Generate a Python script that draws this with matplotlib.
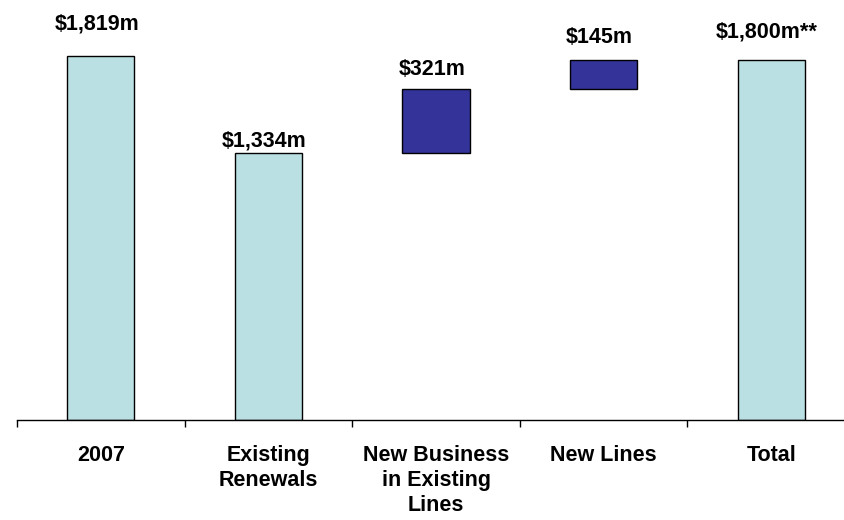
import matplotlib.pyplot as plt

plt.rcParams['font.family'] = ['Liberation Sans', 'DejaVu Sans']

categories = ["2007", "Existing\nRenewals", "New Business\nin Existing\nLines", "New Lines", "Total"]
values = [1819, 1334, 321, 145, 1800]
labels = ["$1,819m", "$1,334m", "$321m", "$145m", "$1,800m**"]
# which bars float on top of the running total
is_step = [False, False, True, True, False]

light = "#bbe0e3"
dark = "#333399"

bottoms = []
running = 0
for v, step in zip(values, is_step):
    if step:
        bottoms.append(running)
        running += v
    else:
        bottoms.append(0)
        running = v
tops = [b + v for b, v in zip(bottoms, values)]

fig = plt.figure(figsize=(8.45, 5.2), dpi=100)
ax = fig.add_axes([17 / 845, 100 / 520, 838 / 845, 420 / 520])

x = list(range(len(categories)))
colors = [dark if s else light for s in is_step]
ax.bar(x, values, bottom=bottoms, width=0.4, color=colors, edgecolor="black", linewidth=1)

# gap between bar top and its label, in points
pads = [19.5, 4.5, 10, 12, 16.5]
for xi, top, lab, pad in zip(x, tops, labels, pads):
    ax.annotate(lab, (xi, top), xytext=(-3, pad), textcoords="offset points",
                ha="center", va="baseline", fontsize=15.5, fontweight="bold")

ax.set_xlim(-0.5, len(categories) - 0.5)
ax.set_ylim(0, 2100)
ax.set_xticks([i - 0.5 for i in range(len(categories) + 1)])
ax.set_xticklabels([])
ax.set_xticks(x, minor=True)
ax.set_xticklabels(categories, minor=True, fontsize=15.5, fontweight="bold", linespacing=1.25)
ax.tick_params(axis="x", which="major", length=5, width=1, direction="out")
ax.tick_params(axis="x", which="minor", length=0, pad=18)
ax.set_yticks([])
for side in ["top", "right", "left"]:
    ax.spines[side].set_visible(False)
ax.spines["bottom"].set_linewidth(1)

fig.savefig("out.png", dpi=100)
